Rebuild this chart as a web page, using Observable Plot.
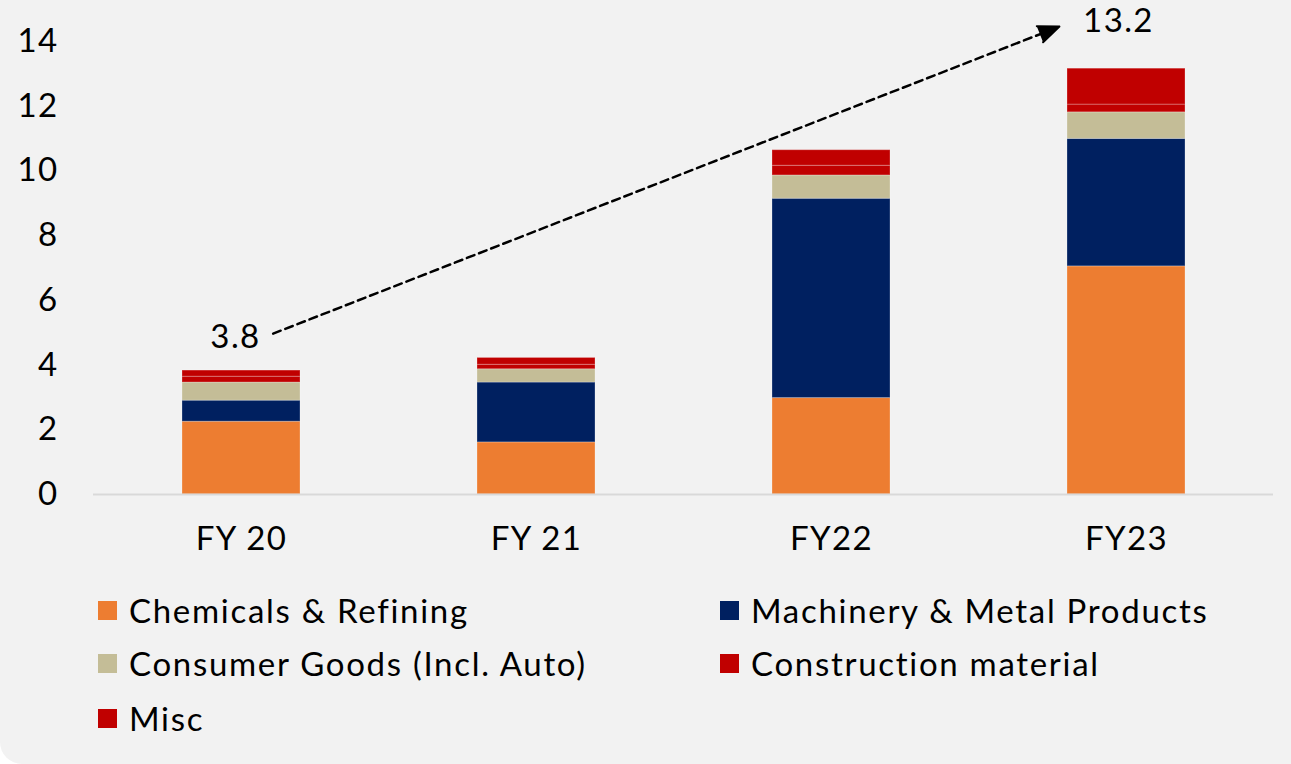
<!DOCTYPE html>
<html>
<head>
<meta charset="utf-8">
<script src="https://cdn.jsdelivr.net/npm/d3@7"></script>
<script src="https://cdn.jsdelivr.net/npm/@observablehq/plot@0.6"></script>
<style>
  html, body { margin: 0; padding: 0; background: #ffffff; }
  #wrap {
    position: relative; width: 1291px; height: 764px; background: #f2f2f2;
    border-bottom-left-radius: 22px; overflow: hidden;
    font-family: Lato, "Open Sans", sans-serif; color: #000;
  }
  #chart { position: absolute; left: 0; top: 0; }
  #chart svg text { letter-spacing: 1.4px; }
  #legend { position: absolute; left: 0; top: 0; width: 1291px; height: 764px; pointer-events: none; }
  .item { position: absolute; display: flex; align-items: center; font-size: 33px; line-height: 1; white-space: nowrap; letter-spacing: 1.7px; }
  .sw { width: 19px; height: 19px; margin-right: 12px; flex: none; }
</style>
</head>
<body>
<div id="wrap">
  <div id="chart"></div>
  <div id="legend"></div>
</div>
<script>
// ---- data ----
const categories = ["FY 20", "FY 21", "FY22", "FY23"];
const seriesNames = ["Chemicals & Refining", "Machinery & Metal Products", "Consumer Goods (Incl. Auto)", "Construction material", "Misc"];
const seriesColors = ["#ED7D31", "#002060", "#C4BD97", "#C00000", "#C00000"];
const chemicals = [2.25, 1.61, 2.98, 7.05];
const machinery = [0.65, 1.85, 6.16, 3.94];
const consumer = [0.56, 0.41, 0.72, 0.82];
const construction = [0.18, 0.14, 0.30, 0.24];
const misc = [0.19, 0.21, 0.48, 1.11];
const yTicks = [0, 2, 4, 6, 8, 10, 12, 14];
const totalLabels = [{cat: "FY 20", value: 3.83, label: "3.8"}, {cat: "FY23", value: 13.16, label: "13.2"}];
const trendArrow = [{x1: "FY 20", y1: 4.59, x2: "FY23", y2: 15.27}];

const seriesValues = [chemicals, machinery, consumer, construction, misc];
const rows = [];
seriesNames.forEach((s, si) => categories.forEach((c, ci) => rows.push({cat: c, series: s, value: seriesValues[si][ci]})));

const font = "Lato, 'Open Sans', sans-serif";

const chart = Plot.plot({
  width: 1291,
  height: 580,
  marginLeft: 93,
  marginRight: 18,
  marginTop: 41,
  marginBottom: 86,
  style: {background: "transparent", fontFamily: font, fontSize: "33px", color: "#000", overflow: "visible"},
  x: {domain: categories, paddingInner: 0.6, paddingOuter: 0.3, label: null, tickSize: 0, tickPadding: 32},
  y: {domain: [0, 14], ticks: yTicks, label: null, tickSize: 0, tickPadding: 35},
  color: {domain: seriesNames, range: seriesColors},
  marks: [
    Plot.barY(rows, {x: "cat", y: "value", fill: "series", stroke: "#ffffff", strokeOpacity: 0.25, strokeWidth: 1}),
    Plot.ruleY([0], {stroke: "#d9d9d9", strokeWidth: 2}),
    Plot.arrow(trendArrow, {x1: "x1", y1: "y1", x2: "x2", y2: "y2", stroke: "#000", strokeWidth: 2.5, strokeDasharray: "8,5", headLength: 0, insetStart: 34, insetEnd: 80}),
    Plot.arrow(trendArrow, {x1: "x1", y1: "y1", x2: "x2", y2: "y2", stroke: "#000", fill: "#000", strokeWidth: 2, headLength: 17, headAngle: 45, insetStart: 870, insetEnd: 72}),
    Plot.text(totalLabels.filter(d => d.cat === "FY 20"), {x: "cat", y: "value", text: "label", dx: -6, dy: -33, fontSize: 33, fill: "#000"}),
    Plot.text(totalLabels.filter(d => d.cat === "FY23"), {x: "cat", y: "value", text: "label", dx: -8, dy: -47, fontSize: 33, fill: "#000"})
  ]
});
document.getElementById("chart").appendChild(chart);

// ---- legend ----
const legendPos = [[98, 610], [720, 610], [98, 663], [720, 663], [98, 718]];
const legend = document.getElementById("legend");
seriesNames.forEach((s, i) => {
  const it = document.createElement("div");
  it.className = "item";
  it.style.left = legendPos[i][0] + "px";
  it.style.top = (legendPos[i][1] - 17) + "px";
  it.style.height = "34px";
  const sw = document.createElement("span");
  sw.className = "sw";
  sw.style.background = seriesColors[i];
  const tx = document.createElement("span");
  tx.textContent = s;
  it.appendChild(sw); it.appendChild(tx);
  legend.appendChild(it);
});
</script>
</body>
</html>
